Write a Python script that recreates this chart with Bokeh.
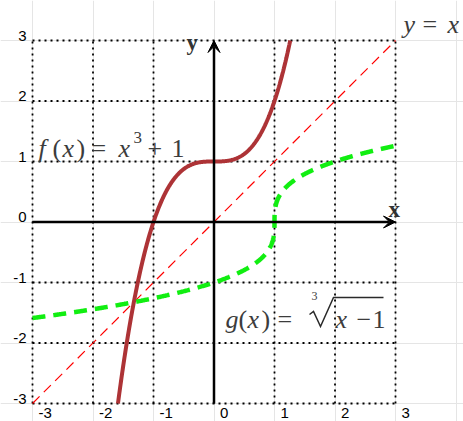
import numpy as np
from bokeh.plotting import figure
from bokeh.models import Range1d, Label, Arrow, VeeHead
from bokeh.embed import file_html
from bokeh.resources import INLINE

# axis extent and tick marks
x_min, x_max = -3, 3
y_min, y_max = -3, 3
ticks = [-3, -2, -1, 0, 1, 2, 3]
tick_labels = ["-3", "-2", "-1", "0", "1", "2", "3"]

# curves: f(x) = x^3 + 1, its inverse g(x) = cbrt(x - 1), and the mirror line y = x
f_x = np.linspace(np.cbrt(y_min - 1), np.cbrt(y_max - 1), 400)
f_y = f_x ** 3 + 1
g_x = np.concatenate([np.linspace(x_min, 0.9, 300), np.linspace(0.9, 1.1, 600), np.linspace(1.1, x_max, 300)])
g_y = np.cbrt(g_x - 1)
id_x = [x_min, x_max]
id_y = [y_min, y_max]

# the plotting square sits at (LEFT, TOP) with side SIZE; the frame spans the whole canvas
W, H = 463, 421
LEFT, TOP, SIZE = 32, 40, 363
unit = SIZE / (x_max - x_min)
x_lo, x_hi = x_min - LEFT / unit, x_min + (W - LEFT) / unit
y_hi, y_lo = y_max + TOP / unit, y_max - (H - TOP) / unit

p = figure(width=W, height=H, x_range=Range1d(x_lo, x_hi), y_range=Range1d(y_lo, y_hi),
           x_axis_location=None, y_axis_location=None, toolbar_location=None,
           output_backend="svg", min_border=0)
p.outline_line_color = None
p.background_fill_color = "white"
p.border_fill_color = "white"


def at(px, py):
    """canvas pixel -> data coordinates"""
    return x_lo + px / unit, y_hi - py / unit


# dotted grid over the square
n = len(ticks)
p.segment(x0=ticks, y0=[y_min] * n, x1=ticks, y1=[y_max] * n,
          line_color="black", line_width=1.8, line_dash="2 4")
p.segment(x0=[x_min] * n, y0=ticks, x1=[x_max] * n, y1=ticks,
          line_color="black", line_width=1.8, line_dash="2 4")

# coordinate axes with arrow heads
for xs, ys, xe, ye in [(x_min, 0, x_max, 0), (0, y_min, 0, y_max)]:
    p.add_layout(Arrow(end=VeeHead(size=12, fill_color="black", line_color="black", line_width=1),
                       x_start=xs, y_start=ys, x_end=xe, y_end=ye,
                       line_color="black", line_width=2.5, level="glyph"))

p.line(id_x, id_y, line_color="red", line_width=1.2, line_dash="10 6")
p.line(f_x, f_y, line_color="#ad3336", line_width=4)
p.line(g_x, g_y, line_color="#11ee11", line_width=4.5, line_dash="13 8")

# tick labels
for t, lab in zip(ticks, tick_labels):
    p.add_layout(Label(x=at(26, 0)[0], y=t + 5 / unit, text=lab, text_align="right",
                       text_baseline="alphabetic", text_font="Liberation Sans",
                       text_font_size="15px", text_color="black"))
    p.add_layout(Label(x=t + 6 / unit, y=at(0, 407)[1], text=lab, text_align="left",
                       text_baseline="top", text_font="Liberation Sans",
                       text_font_size="15px", text_color="black"))

# axis names
for txt, px, py in [("x", 388, 209), ("y", 186, 42)]:
    x, y = at(px, py)
    p.add_layout(Label(x=x, y=y, text=txt, text_font="Liberation Serif", text_font_style="bold",
                       text_font_size="23px", text_color="#333333", text_baseline="alphabetic"))

# math labels, set piece by piece: (text, left px, baseline px, italic, size)
IT, UP = True, False
pieces = [
    ("f", 38, 148, IT, 26), ("(", 52, 148, UP, 26), ("x", 62, 148, IT, 26), (")", 76, 148, UP, 26),
    ("=", 91, 148, UP, 26), ("x", 118, 148, IT, 26), ("3", 133, 137, UP, 17),
    ("+", 147, 148, UP, 26), ("1", 171, 148, UP, 26),
    ("g", 225, 319, IT, 26), ("(", 238, 319, UP, 26), ("x", 247, 319, IT, 26), (")", 261, 319, UP, 26),
    ("=", 277, 319, UP, 26), ("3", 311, 295, UP, 12),
    ("x", 335, 319, IT, 26), ("\u2212", 356, 319, UP, 26), ("1", 372, 319, UP, 26),
    ("y", 403, 24, IT, 26), ("=", 422, 24, UP, 26), ("x", 447, 24, IT, 26),
]
for txt, px, py, ital, size in pieces:
    x, y = at(px, py)
    p.add_layout(Label(x=x, y=y, text=txt, text_font="Liberation Serif",
                       text_font_style="italic" if ital else "normal",
                       text_font_size=f"{size}px", text_color="#3c3c3c", text_baseline="alphabetic"))

# radical sign and vinculum of the cube root
root_px = [(309, 314), (313, 311), (320, 326), (333, 297), (383, 297)]
root = [at(px, py) for px, py in root_px]
p.line([r[0] for r in root], [r[1] for r in root], line_color="#2a2a2a", line_width=1.5,
       line_join="miter")

open("out.html", "w").write(file_html(p, INLINE))
